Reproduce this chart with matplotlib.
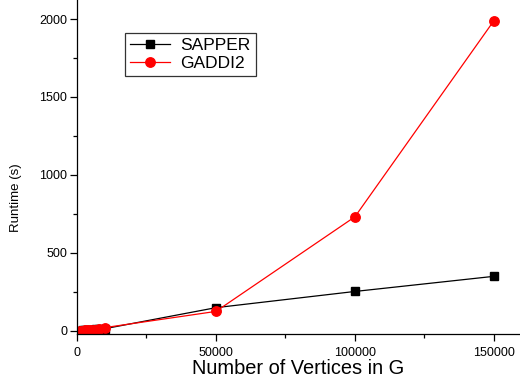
import matplotlib
matplotlib.use("Agg")
import matplotlib.pyplot as plt
from matplotlib.ticker import MultipleLocator

plt.rcParams['font.family'] = ['Liberation Sans', 'DejaVu Sans']

# number of vertices in G
vertices = [1000, 2000, 3000, 4000, 5000, 6000, 7000, 8000, 10000,
            50000, 100000, 150000]
# runtime in seconds
sapper = [1, 2, 3, 4, 5, 6, 8, 9, 13, 148, 252, 349]
gaddi2 = [0.5, 1, 2, 3, 4, 5, 7, 8, 20, 124, 731, 1989]

fig = plt.figure(figsize=(5.2, 3.79), dpi=100)
ax = fig.add_axes([77/520, 45/379, 443/520, 334/379])

ax.plot(vertices, sapper, color='black', lw=0.9, marker='s', ms=5.2,
        label='SAPPER')
ax.plot(vertices, gaddi2, color='red', lw=0.9, marker='o', ms=6.8,
        label='GADDI2')

ax.set_xlim(0, 159400)
ax.set_ylim(-21, 2122)
ax.xaxis.set_major_locator(MultipleLocator(50000))
ax.xaxis.set_minor_locator(MultipleLocator(25000))
ax.yaxis.set_major_locator(MultipleLocator(500))
ax.yaxis.set_minor_locator(MultipleLocator(250))
ax.tick_params(which='major', direction='out', length=5, width=0.9,
               labelsize=9, pad=2)
ax.tick_params(axis='x', which='major', pad=4.5)
ax.tick_params(which='minor', direction='out', length=3, width=0.9)

for s in ['top', 'right']:
    ax.spines[s].set_visible(False)
for s in ['left', 'bottom']:
    ax.spines[s].set_linewidth(0.9)

ax.set_xlabel('Number of Vertices in G', fontsize=14.4, labelpad=0)
ax.set_ylabel('Runtime (s)', fontsize=9.5)
ax.yaxis.set_label_coords(-0.125, 1 - 198/334)

leg = ax.legend(loc='upper left', bbox_to_anchor=(48/443, 1 - 33/334),
                fontsize=12.5, fancybox=False, edgecolor='black',
                borderaxespad=0, handlelength=2.3, borderpad=0.3,
                labelspacing=0.15, handletextpad=0.6)
leg.get_frame().set_linewidth(0.9)

fig.savefig('out.png', dpi=100)
